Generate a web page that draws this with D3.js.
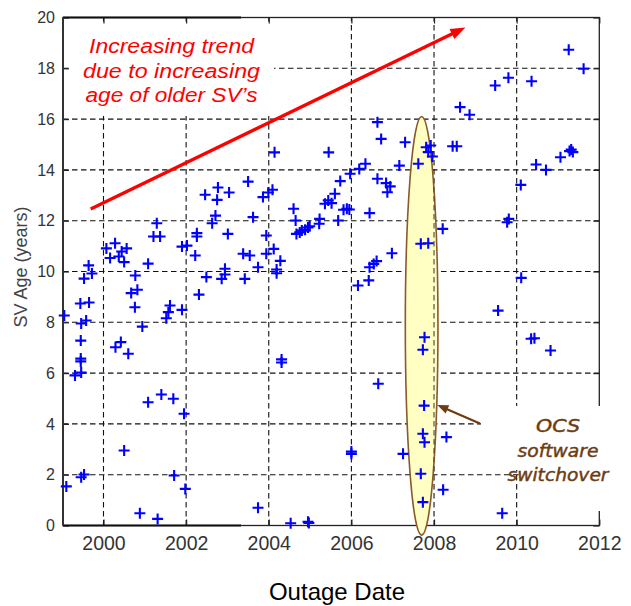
<!DOCTYPE html>
<html><head><meta charset="utf-8">
<script src="https://cdn.jsdelivr.net/npm/d3@7"></script>
<style>html,body{margin:0;padding:0;background:#fff;} svg{display:block;}</style>
</head><body>
<svg id="chart" width="631" height="606"></svg>
<script>
// ---- data ----
const outageYear = [
 1999.05,1999.10,1999.31,1999.46,1999.45,1999.45,1999.45,1999.46,1999.58,1999.44,1999.65,1999.53,1999.64,1999.72,1999.46,1999.53,
 2000.07,2000.28,2000.16,2000.37,2000.44,2000.56,2000.50,2000.77,2000.67,2000.82,2000.76,2000.94,2000.29,2000.42,2000.60,
 2001.08,2001.29,2001.21,2001.37,2001.61,2001.57,2001.52,2001.90,2001.90,2002.02,2002.26,2002.26,2002.22,2002.31,
 2000.50,2000.88,2001.31,2001.08,2001.40,2001.69,2001.95,2001.71,2001.98,
 2002.46,2002.63,2002.71,2002.77,2002.75,2003.04,2003.01,2002.49,2002.86,2002.94,2002.94,2003.42,2003.74,2003.38,2003.54,
 2003.50,2003.62,2003.86,2004.09,2003.99,2004.14,2003.94,2003.94,2004.12,2004.28,2004.19,2004.19,2004.31,2004.31,
 2003.74,2004.53,2004.95,2004.97,
 2004.60,2004.65,2004.67,2004.75,2004.80,2004.88,2004.95,2004.99,2005.23,2005.22,2005.45,2005.36,2005.44,2005.52,
 2005.60,2005.68,2005.73,2005.81,2005.89,2005.95,2005.97,2006.00,2006.00,2006.16,2006.42,2006.19,2006.34,2006.44,
 2006.44,2006.54,2006.61,2006.63,2006.72,2006.63,2006.65,2006.84,2006.94,2006.87,2006.98,2007.16,2007.30,2007.25,
 2007.62,2007.81,2007.92,2007.86,2007.96,2007.68,2007.86,2007.77,2007.73,2007.76,2007.73,2007.77,2007.68,2007.73,
 2008.21,2008.30,2008.22,2008.45,2008.55,2008.63,2008.86,2009.48,2009.80,2010.36,2011.26,2011.62,
 2009.55,2009.65,2009.77,2009.81,2010.10,2010.11,2010.35,2010.43,2010.47,2010.71,2010.82,2011.06,2011.28,2011.36,2011.32
];
const svAge = [
 8.27,1.54,5.91,6.02,6.46,6.57,7.28,7.95,8.07,8.74,8.78,9.72,10.24,9.92,1.90,2.01,
 10.91,11.11,10.53,10.59,10.79,10.91,10.37,9.84,9.15,9.28,8.59,7.83,7.02,7.22,6.76,
 10.31,11.90,11.38,11.38,8.66,8.40,8.16,8.49,10.98,11.02,11.51,11.38,10.63,9.09,
 2.95,0.48,0.26,4.85,5.16,4.99,4.40,1.97,1.44,
 13.02,11.90,12.20,13.31,12.82,13.11,11.48,9.78,9.71,9.88,10.11,9.71,10.17,10.70,10.63,
 13.54,12.14,12.93,13.22,13.11,14.69,11.42,10.70,10.89,10.42,10.08,9.93,6.54,6.42,
 0.70,0.09,0.15,0.10,
 12.47,12.01,11.48,11.54,11.61,11.64,11.73,11.78,12.07,11.88,14.69,12.67,12.80,12.69,
 13.06,12.01,13.56,12.43,12.47,12.44,13.85,2.82,2.91,9.45,9.65,14.04,14.24,12.30,
 10.17,10.30,10.41,15.88,15.22,13.65,5.58,13.48,13.35,13.12,10.72,14.17,15.09,2.82,
 14.24,14.89,14.96,14.70,14.53,11.09,11.11,7.41,6.92,4.72,3.61,3.28,2.04,0.92,
 11.68,3.48,1.41,14.93,14.93,16.47,16.17,17.32,17.63,17.49,18.73,17.98,
 8.46,0.48,11.94,12.07,13.41,9.75,7.35,7.37,14.21,14.00,6.89,14.50,14.74,14.70,14.80
];
const xTickValues = [2000,2002,2004,2006,2008,2010,2012];
const yTickValues = [0,2,4,6,8,10,12,14,16,18,20];
const xTitle = "Outage Date";
const yTitle = "SV Age (years)";
const trendLabel = ["Increasing trend","due to increasing","age of older SV\u2019s"];
const ocsLabel = ["OCS","software","switchover"];
const trendArrow = [[1999.69,12.46],[2008.76,19.61]];
const ocsEllipse = {cx:2007.70, cy:7.86, rx:0.395, ry:8.24};
const ocsArrow = [[2009.11,4.02],[2008.08,4.74]];

// ---- layout ----
const m = {left:63, right:599.3, top:17.5, bottom:525.5};
const x = d3.scaleLinear().domain([1999.02,2012]).range([m.left,m.right]);
const y = d3.scaleLinear().domain([0,20]).range([m.bottom,m.top]);
const svg = d3.select("#chart");
const FONT = "'Liberation Sans', Arial, sans-serif";

// grid
const gridV = svg.append("g").attr("stroke","#111").attr("stroke-width",1.1).attr("stroke-dasharray","5.5,3.5");
gridV.selectAll("line").data(xTickValues.filter(d=>d<2012)).join("line")
  .attr("x1",d=>x(d)).attr("x2",d=>x(d)).attr("y1",y(0)).attr("y2",y(20));
const gridH = svg.append("g").attr("stroke","#111").attr("stroke-width",1.1).attr("stroke-dasharray","5.5,3.5");
gridH.selectAll("line").data(yTickValues.filter(d=>d>0&&d<20)).join("line")
  .attr("y1",d=>y(d)).attr("y2",d=>y(d)).attr("x1",x.range()[0]).attr("x2",x.range()[1]);

// axes
function styleAxis(g){ g.select(".domain").remove(); g.selectAll(".tick line").attr("stroke","#222").attr("stroke-width",1.2); }
svg.append("g").attr("transform",`translate(0,${m.bottom})`)
  .call(d3.axisBottom(x).tickValues(xTickValues).tickFormat(d3.format("d")).tickSizeInner(-6).tickSizeOuter(0).tickPadding(11))
  .call(styleAxis)
  .call(g=>g.selectAll("text").attr("font-family",FONT).attr("font-size",19.5).attr("fill","#333"));
svg.append("g").attr("transform",`translate(0,${m.top})`)
  .call(d3.axisTop(x).tickValues(xTickValues).tickFormat("").tickSizeInner(-6).tickSizeOuter(0))
  .call(styleAxis);
svg.append("g").attr("transform",`translate(${m.left},0)`)
  .call(d3.axisLeft(y).tickValues(yTickValues).tickFormat(d3.format("d")).tickSizeInner(-6).tickSizeOuter(0).tickPadding(8))
  .call(styleAxis)
  .call(g=>g.selectAll("text").attr("font-family",FONT).attr("font-size",16).attr("fill","#333"));
svg.append("g").attr("transform",`translate(${m.right},0)`)
  .call(d3.axisRight(y).tickValues(yTickValues).tickFormat("").tickSizeInner(-6).tickSizeOuter(0))
  .call(styleAxis);
svg.append("rect").attr("x",m.left).attr("y",m.top).attr("width",m.right-m.left).attr("height",m.bottom-m.top)
  .attr("fill","none").attr("stroke","#222").attr("stroke-width",1.3);
svg.append("line").attr("x1",m.left).attr("x2",241).attr("y1",m.bottom).attr("y2",m.bottom).attr("stroke","#111").attr("stroke-width",2);
svg.append("line").attr("x1",m.left).attr("x2",241).attr("y1",m.top).attr("y2",m.top).attr("stroke","#111").attr("stroke-width",2);
svg.append("line").attr("x1",m.left).attr("x2",m.left).attr("y1",m.top).attr("y2",m.bottom).attr("stroke","#333").attr("stroke-width",2);

// white backgrounds of the annotation text boxes
svg.append("rect").attr("x",70).attr("y",25).attr("width",204).attr("height",91).attr("fill","#fff");
svg.append("rect").attr("x",481).attr("y",406).attr("width",125).attr("height",64).attr("fill","#fff");
svg.append("rect").attr("x",519).attr("y",470).attr("width",87).attr("height",41).attr("fill","#fff");

// axis titles
svg.append("text").attr("x",337).attr("y",600).attr("text-anchor","middle")
  .attr("font-family",FONT).attr("font-size",24).attr("fill","#000").text(xTitle);
svg.append("text").attr("transform","translate(27,267) rotate(-90)").attr("text-anchor","middle")
  .attr("font-family",FONT).attr("font-size",18).attr("fill","#444").text(yTitle);

// ellipse (OCS switchover)
const ecx = x(ocsEllipse.cx), ecy = y(ocsEllipse.cy);
const erx = x(ocsEllipse.cx+ocsEllipse.rx)-ecx, ery = y(0)-y(ocsEllipse.ry);
svg.append("defs").append("clipPath").attr("id","ellClip").append("ellipse")
  .attr("cx",ecx).attr("cy",ecy).attr("rx",erx).attr("ry",ery);
svg.append("ellipse").attr("cx",ecx).attr("cy",ecy).attr("rx",erx).attr("ry",ery)
  .attr("fill","#ffffc4").attr("stroke","#8a5a2a").attr("stroke-width",1.6);
const gridV2 = svg.append("g").attr("clip-path","url(#ellClip)").attr("stroke","#333").attr("stroke-width",1).attr("stroke-dasharray","5.5,3.5");
gridV2.selectAll("line").data(xTickValues.filter(d=>d<2012)).join("line")
  .attr("x1",d=>x(d)).attr("x2",d=>x(d)).attr("y1",y(0)).attr("y2",y(20));

// points
const pts = outageYear.map((d,i)=>[d,svAge[i]]);
svg.append("g").attr("stroke","#0000ff").attr("stroke-width",2.1).attr("fill","none")
  .selectAll("path").data(pts).join("path")
  .attr("d",d=>{const px=x(d[0]), py=y(d[1]); return `M${px-5.5},${py}H${px+5.5}M${px},${py-5.5}V${py+5.5}`;});

// arrows
function arrow(p0,p1,color,w,hl,hw){
  const x0=x(p0[0]),y0=y(p0[1]),x1=x(p1[0]),y1=y(p1[1]);
  const a=Math.atan2(y1-y0,x1-x0), c=Math.cos(a), s=Math.sin(a);
  const bx=x1-hl*c, by=y1-hl*s;
  svg.append("line").attr("x1",x0).attr("y1",y0).attr("x2",bx+1*c).attr("y2",by+1*s)
    .attr("stroke",color).attr("stroke-width",w);
  svg.append("path").attr("d",`M${x1},${y1}L${bx-hw/2*s},${by+hw/2*c}L${bx+hw/2*s},${by-hw/2*c}Z`).attr("fill",color);
}
arrow(trendArrow[0],trendArrow[1],"#ff0000",3.4,15,11);
arrow(ocsArrow[0],ocsArrow[1],"#6e3c10",2.2,11,9);

// annotation texts
const trendLen=[165,177,172], trendY=[53.3,77.5,101.7];
svg.append("g").selectAll("text").data(trendLabel).join("text")
  .attr("x",171.5).attr("y",(d,i)=>trendY[i]).attr("text-anchor","middle")
  .attr("textLength",(d,i)=>trendLen[i]).attr("lengthAdjust","spacingAndGlyphs")
  .attr("font-family",FONT).attr("font-style","italic").attr("font-size",20).attr("fill","#ff0000").text(d=>d);
const ocsLen=[44,81,101], ocsY=[432.3,456.5,480.5];
svg.append("g").selectAll("text").data(ocsLabel).join("text")
  .attr("x",558).attr("y",(d,i)=>ocsY[i]).attr("text-anchor","middle")
  .attr("textLength",(d,i)=>ocsLen[i]).attr("lengthAdjust","spacingAndGlyphs")
  .attr("font-family","'DejaVu Sans', Verdana, sans-serif").attr("font-style","italic").attr("font-size",18)
  .attr("fill","#6e3c10").attr("stroke","#6e3c10").attr("stroke-width",0.45).text(d=>d);
</script>
</body></html>
